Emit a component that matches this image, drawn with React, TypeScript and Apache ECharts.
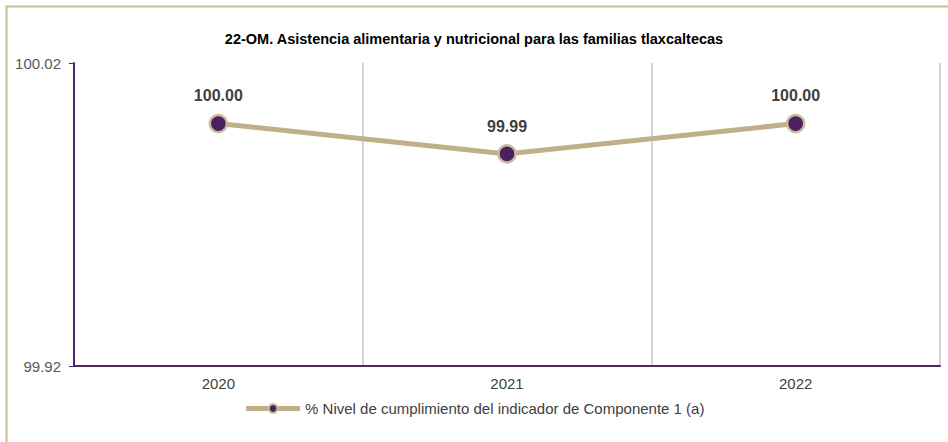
import React, { useEffect, useRef } from "react";
import * as echarts from "echarts";

const categories = ["2020", "2021", "2022"];
const values = [100.0, 99.99, 100.0];
const yTickLabels = [99.92, 100.02];
const seriesName = "% Nivel de cumplimiento del indicador de Componente 1 (a)";
const titleText = "22-OM. Asistencia alimentaria y nutricional para las familias tlaxcaltecas";

export default function App() {
  const ref = useRef<HTMLDivElement>(null);
  useEffect(() => {
    if (!ref.current) return;
    const chart = echarts.init(ref.current, undefined, { renderer: "svg" });
    chart.setOption({
      animation: false,
      backgroundColor: "#ffffff",
      textStyle: { fontFamily: "Liberation Sans, Arial, sans-serif" },
      title: {
        text: titleText,
        left: "center",
        top: 26,
        textStyle: { fontSize: 14.5, fontWeight: "bold", color: "#000000", fontFamily: "Liberation Sans, Arial, sans-serif" },
      },
      graphic: [
        {
          type: "rect",
          shape: { x: 6.5, y: 6.5, width: 1200, height: 1200 },
          style: { fill: "none", stroke: "#C9BC99", lineWidth: 2 },
          silent: true,
        },
      ],
      grid: { left: 74, right: 8, top: 63, bottom: 76, containLabel: false, outerBoundsMode: "none" },
      legend: {
        bottom: 21,
        left: "center",
        itemWidth: 54,
        itemHeight: 11,
        itemGap: 4,
        lineStyle: { width: 5 },
        textStyle: { fontSize: 15, color: "#404040" },
        data: [seriesName],
      },
      xAxis: {
        type: "category",
        data: categories,
        boundaryGap: true,
        axisLine: { lineStyle: { color: "#4B2A66", width: 2 } },
        axisTick: { show: false },
        axisLabel: { fontSize: 15, color: "#404040", margin: 10 },
        splitLine: { show: true, lineStyle: { color: "#C8C0DA", width: 1.5 } },
      },
      yAxis: {
        type: "value",
        min: 99.92,
        max: 100.02,
        axisLine: { show: true, lineStyle: { color: "#4B2A66", width: 2 } },
        axisTick: { show: true, length: 5, customValues: yTickLabels, lineStyle: { color: "#4B2A66", width: 1 } },
        axisLabel: {
          fontSize: 15,
          color: "#595959",
          margin: 13,
          customValues: yTickLabels,
          formatter: (v: number) => v.toFixed(2),
        },
        splitLine: { show: false },
      },
      series: [
        {
          name: seriesName,
          type: "line",
          data: values,
          lineStyle: { color: "#BFB08A", width: 5 },
          itemStyle: { color: "#4A2060", borderColor: "#C9BC99", borderWidth: 2.5 },
          symbol: "circle",
          symbolSize: 17,
          label: {
            show: true,
            position: "top",
            distance: 10,
            fontSize: 16,
            fontWeight: "bold",
            color: "#404040",
            formatter: (p: any) => Number(p.value).toFixed(2),
          },
        },
      ],
    });
    return () => chart.dispose();
  }, []);
  return <div ref={ref} style={{ position: "fixed", left: 0, top: 0, width: 948, height: 442 }} />;
}
